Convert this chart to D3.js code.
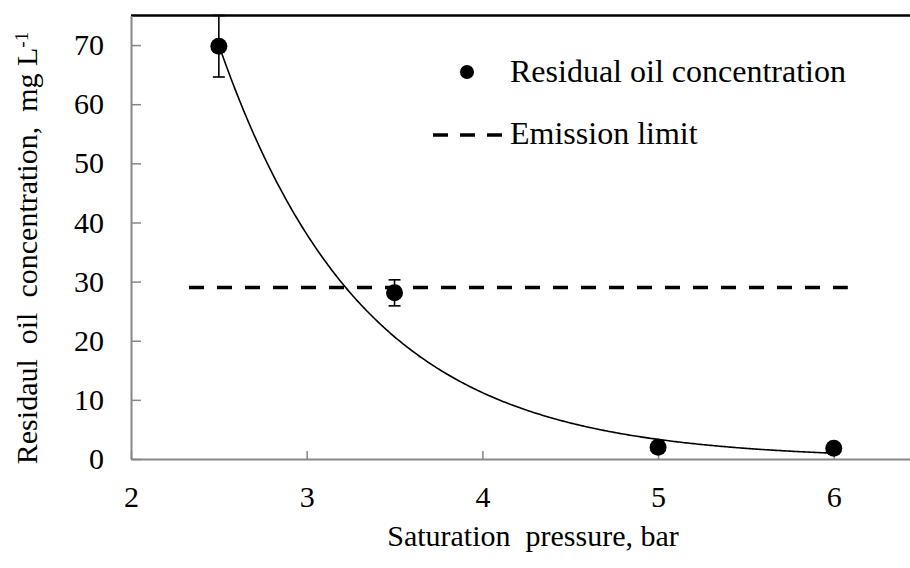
<!DOCTYPE html>
<html>
<head>
<meta charset="utf-8">
<script src="https://cdn.jsdelivr.net/npm/d3@7"></script>
</head>
<body style="margin:0;background:#fff">
<svg id="chart" width="910" height="568"></svg>
<script>
// Measured residual oil after flotation at each saturation pressure
const pressure = [2.5, 3.5, 5, 6];
const residualOil = [69.8, 28.1, 2.0, 1.8];
const residualErr = [5.2, 2.2, 0.4, 0.3];

// Discharge emission limit (mg/L) across the pressure range
const limitPressure = [2.33, 6.08];
const limitValue = [29, 29];

// Exponential trend y = A * exp(-B * x) over the measured range
const trendCoef = [1478, 1.22];
const trendRange = [2.5, 6];

const xTicks = [2, 3, 4, 5, 6];
const yTicks = [0, 10, 20, 30, 40, 50, 60, 70];
const legendLabels = ["Residual oil concentration", "Emission limit"];

const FONT = "Liberation Serif";
const svg = d3.select("#chart").attr("font-family", FONT);
const plotLeft = 131, plotRight = 921.6, plotTop = 15.5, plotBottom = 459;

const x = d3.scaleLinear().domain([2, 6.5]).range([plotLeft, plotRight]);
const y = d3.scaleLinear().domain([0, 75]).range([plotBottom, plotTop]);

const axisColor = "#878787";

// Top frame line
svg.append("line")
  .attr("x1", plotLeft).attr("x2", 910)
  .attr("y1", plotTop).attr("y2", plotTop)
  .attr("stroke", "#000").attr("stroke-width", 2.5);

// Y axis
const yAxis = svg.append("g")
  .attr("transform", `translate(${plotLeft},0)`)
  .call(d3.axisLeft(y).tickValues(yTicks).tickSizeInner(-10).tickSizeOuter(0).tickPadding(27));
yAxis.attr("font-family", FONT).attr("font-size", 30);
yAxis.select(".domain").attr("stroke", axisColor).attr("stroke-width", 2);
yAxis.selectAll(".tick line").attr("stroke", axisColor).attr("stroke-width", 1.5);
yAxis.selectAll("text").attr("fill", "#000");

// X axis
const xAxis = svg.append("g")
  .attr("transform", `translate(0,${plotBottom})`)
  .call(d3.axisBottom(x).tickValues(xTicks).tickFormat(d3.format("d")).tickSizeInner(-8).tickSizeOuter(0).tickPadding(27));
xAxis.attr("font-family", FONT).attr("font-size", 30);
xAxis.select(".domain").attr("stroke", axisColor).attr("stroke-width", 2);
xAxis.selectAll(".tick line").attr("stroke", axisColor).attr("stroke-width", 1.5);
xAxis.selectAll("text").attr("fill", "#000");

// Axis titles
svg.append("text")
  .attr("x", 533).attr("y", 546)
  .attr("text-anchor", "middle")
  .attr("font-family", FONT).attr("font-size", 30)
  .style("white-space", "pre")
  .text("Saturation  pressure, bar");

const yTitle = svg.append("text")
  .attr("transform", "translate(37,248) rotate(-90)")
  .attr("text-anchor", "middle")
  .attr("font-family", FONT).attr("font-size", 30)
  .style("white-space", "pre");
yTitle.append("tspan").text("Residaul  oil  concentration,  mg L");
yTitle.append("tspan").attr("dy", "-0.45em").attr("font-size", 19).text("-1");

// Emission limit (dashed)
const limitLine = d3.line().x(d => x(d[0])).y(d => y(d[1]));
svg.append("path")
  .datum(d3.zip(limitPressure, limitValue))
  .attr("d", limitLine)
  .attr("fill", "none")
  .attr("stroke", "#000")
  .attr("stroke-width", 3.5)
  .attr("stroke-dasharray", "15,13");

// Exponential trend line
const trendPts = d3.range(trendRange[0], trendRange[1] + 1e-9, 0.01)
  .map(p => [p, trendCoef[0] * Math.exp(-trendCoef[1] * p)]);
svg.append("path")
  .datum(trendPts)
  .attr("d", d3.line().x(d => x(d[0])).y(d => y(d[1])))
  .attr("fill", "none")
  .attr("stroke", "#000")
  .attr("stroke-width", 1.6);

// Error bars
const pts = pressure.map((p, i) => ({ p, v: residualOil[i], e: residualErr[i] }));
const eb = svg.append("g").attr("stroke", "#000").attr("stroke-width", 1.6);
pts.forEach(d => {
  eb.append("line").attr("x1", x(d.p)).attr("x2", x(d.p))
    .attr("y1", y(d.v - d.e)).attr("y2", y(d.v + d.e));
  [d.v - d.e, d.v + d.e].forEach(v => {
    eb.append("line").attr("x1", x(d.p) - 6).attr("x2", x(d.p) + 6)
      .attr("y1", y(v)).attr("y2", y(v));
  });
});

// Data markers
svg.append("g").selectAll("circle")
  .data(pts).join("circle")
  .attr("cx", d => x(d.p)).attr("cy", d => y(d.v))
  .attr("r", 8.5).attr("fill", "#000");

// Legend
const lg = svg.append("g").attr("font-family", FONT).attr("font-size", 32);
lg.append("circle").attr("cx", 467).attr("cy", 72).attr("r", 7).attr("fill", "#000");
lg.append("text").attr("x", 510).attr("y", 82).text(legendLabels[0]);
lg.append("line").attr("x1", 433).attr("x2", 503).attr("y1", 135).attr("y2", 135)
  .attr("stroke", "#000").attr("stroke-width", 3.5).attr("stroke-dasharray", "15,12");
lg.append("text").attr("x", 510).attr("y", 144).text(legendLabels[1]);
</script>
</body>
</html>
